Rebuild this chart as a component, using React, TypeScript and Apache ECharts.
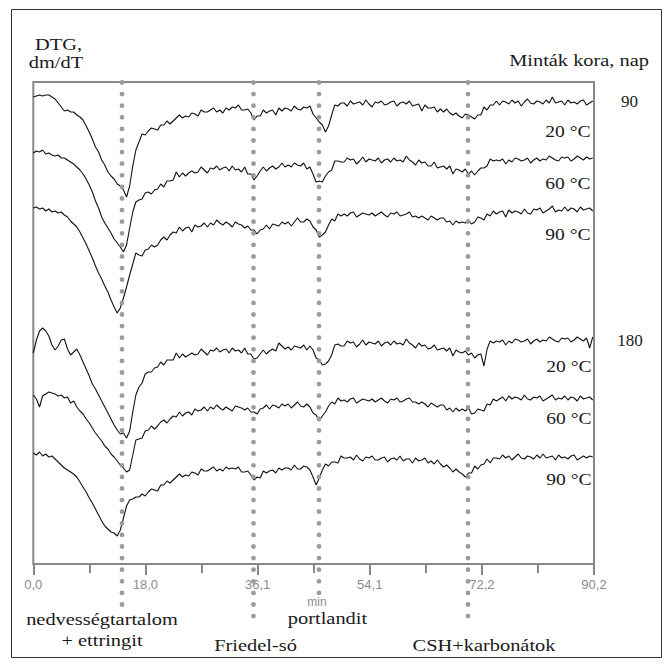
import React, { useEffect, useRef } from "react";
import * as echarts from "echarts";

// sampling times (min)
const timeMin = [
  0, 0.5, 1, 1.5, 2, 2.5, 3, 3.5, 4, 4.5,
  5, 5.5, 6, 6.5, 7, 7.5, 8, 8.5, 9, 9.5,
  10, 10.5, 11, 11.5, 12, 12.5, 13, 13.5, 14, 14.5,
  15, 15.5, 16, 16.5, 17, 17.5, 18, 18.5, 19, 19.5,
  20, 20.5, 21, 21.5, 22, 22.5, 23, 23.5, 24, 24.5,
  25, 25.5, 26, 26.5, 27, 27.5, 28, 28.5, 29, 29.5,
  30, 30.5, 31, 31.5, 32, 32.5, 33, 33.5, 34, 34.5,
  35, 35.5, 36, 36.5, 37, 37.5, 38, 38.5, 39, 39.5,
  40, 40.5, 41, 41.5, 42, 42.5, 43, 43.5, 44, 44.5,
  45, 45.5, 46, 46.5, 47, 47.5, 48, 48.5, 49, 49.5,
  50, 50.5, 51, 51.5, 52, 52.5, 53, 53.5, 54, 54.5,
  55, 55.5, 56, 56.5, 57, 57.5, 58, 58.5, 59, 59.5,
  60, 60.5, 61, 61.5, 62, 62.5, 63, 63.5, 64, 64.5,
  65, 65.5, 66, 66.5, 67, 67.5, 68, 68.5, 69, 69.5,
  70, 70.5, 71, 71.5, 72, 72.5, 73, 73.5, 74, 74.5,
  75, 75.5, 76, 76.5, 77, 77.5, 78, 78.5, 79, 79.5,
  80, 80.5, 81, 81.5, 82, 82.5, 83, 83.5, 84, 84.5,
  85, 85.5, 86, 86.5, 87, 87.5, 88, 88.5, 89, 89.5,
  90,
];

// DTG curves (arbitrary units, vertically offset for display)
const dtg90d20C = [
  -97, -96, -95, -96, -95, -95, -97, -99, -103, -107,
  -111, -110, -112, -112, -115, -117, -120, -126, -132, -139,
  -147, -152, -160, -165, -172, -176, -179, -184, -186, -190,
  -197, -186, -166, -150, -142, -134, -135, -131, -128, -129,
  -130, -125, -125, -121, -124, -121, -118, -115, -118, -116,
  -117, -113, -114, -116, -110, -112, -112, -110, -108, -112,
  -110, -113, -108, -110, -107, -108, -105, -110, -110, -109,
  -113, -120, -116, -116, -110, -113, -111, -110, -115, -108,
  -111, -108, -109, -111, -106, -109, -110, -107, -108, -106,
  -114, -118, -122, -125, -132, -126, -115, -105, -106, -103,
  -103, -106, -101, -104, -103, -102, -105, -100, -104, -107,
  -102, -103, -101, -105, -104, -102, -101, -106, -103, -102,
  -104, -101, -106, -105, -104, -111, -105, -108, -108, -107,
  -112, -109, -112, -109, -113, -115, -113, -116, -118, -114,
  -115, -117, -119, -115, -115, -107, -110, -105, -105, -101,
  -105, -101, -102, -104, -100, -103, -101, -106, -102, -99,
  -103, -104, -101, -102, -104, -100, -103, -97, -103, -102,
  -101, -105, -100, -103, -102, -104, -101, -100, -105, -103,
  -101,
];

const dtg90d60C = [
  -153, -151, -152, -150, -154, -153, -155, -156, -155, -158,
  -158, -160, -162, -164, -167, -170, -174, -179, -185, -192,
  -201, -208, -217, -223, -228, -233, -239, -243, -247, -252,
  -245, -228, -212, -202, -200, -199, -193, -192, -194, -190,
  -189, -184, -187, -181, -181, -180, -172, -177, -173, -176,
  -173, -171, -173, -172, -167, -170, -173, -168, -169, -166,
  -170, -168, -167, -171, -166, -170, -169, -172, -167, -174,
  -174, -180, -176, -171, -167, -171, -168, -166, -169, -167,
  -163, -167, -165, -167, -163, -165, -166, -163, -169, -167,
  -174, -182, -181, -182, -176, -172, -170, -161, -161, -162,
  -162, -158, -160, -159, -164, -161, -157, -162, -159, -160,
  -161, -158, -163, -160, -159, -162, -158, -161, -160, -162,
  -156, -160, -162, -165, -160, -163, -162, -166, -166, -162,
  -168, -167, -166, -169, -166, -174, -169, -170, -172, -169,
  -174, -171, -175, -171, -168, -168, -166, -159, -161, -160,
  -161, -159, -164, -160, -162, -158, -159, -161, -160, -158,
  -163, -160, -158, -161, -159, -160, -156, -158, -160, -161,
  -157, -158, -157, -161, -159, -156, -158, -160, -157, -159,
  -158,
];

const dtg90d90C = [
  -208, -207, -209, -208, -211, -209, -212, -211, -213, -212,
  -215, -217, -221, -224, -227, -232, -238, -244, -251, -258,
  -266, -273, -279, -286, -292, -300, -307, -313, -308, -298,
  -287, -275, -264, -253, -255, -256, -250, -249, -245, -247,
  -245, -240, -237, -240, -235, -232, -233, -227, -231, -228,
  -227, -232, -225, -227, -226, -223, -227, -223, -225, -220,
  -223, -225, -222, -224, -227, -222, -224, -225, -228, -226,
  -230, -230, -234, -230, -229, -225, -229, -224, -225, -226,
  -222, -224, -222, -226, -222, -218, -222, -222, -219, -221,
  -227, -230, -237, -235, -232, -225, -219, -221, -214, -216,
  -214, -216, -213, -212, -217, -215, -213, -214, -215, -213,
  -216, -214, -212, -215, -217, -213, -214, -212, -216, -215,
  -214, -212, -217, -216, -218, -216, -218, -220, -216, -218,
  -220, -218, -218, -222, -221, -225, -221, -223, -222, -223,
  -220, -224, -222, -217, -218, -220, -214, -216, -211, -214,
  -212, -211, -217, -210, -213, -211, -212, -214, -209, -213,
  -214, -209, -210, -208, -213, -211, -209, -206, -212, -210,
  -211, -207, -211, -208, -209, -212, -207, -210, -209, -208,
  -211,
];

const dtg180d20C = [
  -353, -340, -331, -328, -331, -336, -345, -350, -346, -340,
  -339, -349, -355, -352, -349, -355, -362, -369, -376, -384,
  -389, -395, -401, -407, -413, -419, -425, -430, -434, -433,
  -438, -431, -412, -395, -387, -383, -374, -372, -372, -368,
  -367, -362, -365, -360, -360, -360, -353, -358, -354, -357,
  -355, -353, -355, -354, -349, -352, -355, -350, -351, -348,
  -352, -350, -349, -353, -348, -351, -350, -353, -348, -354,
  -354, -359, -358, -354, -350, -354, -351, -349, -351, -343,
  -346, -349, -347, -350, -346, -347, -348, -345, -350, -346,
  -350, -358, -360, -365, -364, -361, -355, -345, -344, -346,
  -346, -341, -343, -342, -347, -344, -340, -345, -342, -343,
  -344, -341, -346, -343, -342, -345, -341, -344, -343, -345,
  -339, -343, -345, -348, -343, -346, -345, -349, -348, -345,
  -350, -349, -348, -351, -348, -356, -350, -352, -353, -351,
  -355, -353, -358, -355, -354, -366, -349, -341, -343, -341,
  -342, -340, -345, -341, -343, -339, -340, -342, -341, -339,
  -344, -341, -339, -342, -340, -341, -337, -339, -341, -342,
  -338, -339, -338, -342, -340, -337, -339, -341, -338, -348,
  -337,
];

const dtg180d60C = [
  -395, -399, -407, -396, -394, -392, -393, -394, -396, -395,
  -398, -397, -403, -401, -407, -411, -414, -419, -423, -428,
  -433, -437, -441, -446, -449, -454, -457, -461, -465, -468,
  -472, -470, -455, -440, -439, -438, -431, -430, -426, -429,
  -426, -422, -420, -423, -419, -416, -417, -412, -416, -413,
  -412, -415, -409, -411, -410, -407, -411, -407, -409, -405,
  -408, -410, -407, -409, -411, -406, -407, -408, -410, -408,
  -412, -412, -414, -409, -408, -405, -409, -405, -406, -408,
  -404, -406, -404, -408, -405, -402, -406, -407, -404, -407,
  -413, -415, -421, -416, -412, -406, -402, -404, -398, -401,
  -400, -402, -399, -398, -403, -401, -399, -400, -401, -399,
  -402, -400, -398, -401, -403, -399, -400, -398, -402, -401,
  -399, -398, -402, -402, -404, -402, -404, -407, -403, -405,
  -407, -405, -405, -410, -408, -412, -408, -411, -409, -411,
  -408, -414, -413, -409, -410, -411, -404, -405, -399, -401,
  -399, -397, -401, -396, -399, -397, -398, -400, -395, -399,
  -400, -397, -398, -396, -401, -399, -397, -395, -400, -398,
  -399, -396, -400, -397, -398, -401, -396, -399, -398, -397,
  -400,
];

const dtg180d90C = [
  -453, -455, -452, -456, -454, -457, -456, -459, -462, -465,
  -468, -470, -472, -474, -477, -482, -487, -492, -498, -503,
  -509, -515, -521, -526, -529, -532, -533, -536, -530, -518,
  -506, -500, -499, -497, -497, -494, -496, -492, -489, -490,
  -491, -485, -485, -481, -483, -480, -477, -474, -477, -475,
  -476, -472, -473, -475, -469, -471, -471, -469, -467, -471,
  -469, -471, -467, -469, -468, -469, -467, -472, -472, -471,
  -475, -480, -477, -478, -471, -473, -471, -470, -473, -468,
  -470, -468, -468, -470, -465, -469, -469, -466, -467, -470,
  -477, -485, -478, -470, -464, -466, -462, -462, -463, -456,
  -458, -458, -457, -460, -455, -459, -461, -457, -458, -456,
  -460, -460, -458, -457, -462, -459, -458, -460, -456, -461,
  -459, -459, -463, -458, -461, -460, -458, -463, -461, -464,
  -460, -464, -467, -465, -468, -472, -469, -472, -474, -477,
  -473, -473, -466, -469, -465, -464, -459, -463, -458, -458,
  -459, -455, -458, -456, -460, -457, -454, -458, -459, -456,
  -457, -459, -455, -458, -454, -458, -457, -456, -460, -455,
  -458, -457, -459, -456, -455, -460, -458, -456, -458, -456,
  -457,
];

const curveNames = ["90 nap 20 °C", "90 nap 60 °C", "90 nap 90 °C", "180 nap 20 °C", "180 nap 60 °C", "180 nap 90 °C"];
const curves = [dtg90d20C, dtg90d60C, dtg90d90C, dtg180d20C, dtg180d60C, dtg180d90C];

// characteristic peak times (min)
const peakNames = ["nedvességtartalom + ettringit", "Friedel-só", "portlandit", "CSH+karbonátok"];
const peakTimes = [14.27, 35.42, 45.96, 69.93];
const peakLineEnds = [-605.5, -617, -594, -617];

const xMin = 0;
const xMax = 90.2;
const xInterval = 18.04;
const yMin = -564;
const yMax = -82;

const SERIF = "'Liberation Serif', 'Times New Roman', Times, serif";
const INK = "#1a1a1a";

function txt(text: string, x: number, y: number, align: string, scaleX = 1.2, size = 17, fill = INK, family = SERIF) {
  return {
    type: "text",
    x,
    y,
    scaleX,
    silent: true,
    style: {
      text,
      fill,
      font: `${size}px ${family}`,
      align,
      verticalAlign: "middle",
    },
  };
}

export default function App() {
  const ref = useRef<HTMLDivElement>(null);

  useEffect(() => {
    if (!ref.current) return;
    const chart = echarts.init(ref.current, null, { renderer: "svg" });

    const curveSeries = curves.map((c, k) => ({
      type: "line",
      name: curveNames[k],
      data: timeMin.map((t, i) => [t, c[i]]),
      symbol: "none",
      showSymbol: false,
      silent: true,
      emphasis: { disabled: true },
      lineStyle: { color: "#111", width: 1.1 },
      z: 2,
    }));

    const peakSeries = peakTimes.map((t, k) => ({
      type: "line",
      name: peakNames[k],
      data: [
        [t, yMax - 0.5],
        [t, peakLineEnds[k]],
      ],
      clip: false,
      symbol: "none",
      showSymbol: false,
      silent: true,
      emphasis: { disabled: true },
      lineStyle: { color: "#9b9b9b", width: 4.8, type: [0, 11.6], cap: "round" },
      z: 3,
    }));

    const option: any = {
      animation: false,
      grid: {
        left: 33.3,
        top: 82,
        right: 72,
        bottom: 103,
        show: true,
        borderColor: "#888",
        borderWidth: 2,
        backgroundColor: "transparent",
        containLabel: false,
        outerBoundsMode: "none",
      },
      xAxis: {
        type: "value",
        min: xMin,
        max: xMax,
        interval: xInterval,
        axisLine: { show: true, onZero: false, lineStyle: { color: "#888", width: 2 } },
        axisTick: { show: true, length: 11, lineStyle: { color: "#888", width: 2 } },
        minorTick: { show: true, splitNumber: 2, length: 9, lineStyle: { color: "#888", width: 2 } },
        splitLine: { show: false },
        minorSplitLine: { show: false },
        axisLabel: {
          margin: 14,
          color: "#8c8c8c",
          fontSize: 13,
          fontFamily: "'Liberation Sans Narrow', 'Liberation Sans', Arial, sans-serif",
          formatter: (v: number) => v.toFixed(1).replace(".", ","),
        },
      },
      yAxis: {
        type: "value",
        min: yMin,
        max: yMax,
        show: false,
        splitLine: { show: false },
      },
      series: [...curveSeries, ...peakSeries],
      graphic: [
        {
          type: "rect",
          silent: true,
          shape: { x: 11.5, y: 9.5, width: 650, height: 648 },
          style: { fill: "none", stroke: "#333", lineWidth: 1 },
        },
        txt("DTG,", 58.5, 44, "center"),
        txt("dm/dT", 56, 62, "center"),
        txt("Minták kora, nap", 649, 60, "right"),
        txt("90", 629.5, 101, "center", 1.0),
        txt("180", 630, 340, "center", 1.0),
        txt("20 °C", 590.5, 131.5, "right", 1.15),
        txt("60 °C", 590.5, 183, "right", 1.15),
        txt("90 °C", 590.5, 234.7, "right", 1.15),
        txt("20 °C", 591.5, 366.7, "right", 1.15),
        txt("60 °C", 591.5, 418, "right", 1.15),
        txt("90 °C", 591.5, 479, "right", 1.15),
        txt("nedvességtartalom", 102, 619, "center"),
        txt("+ ettringit", 102, 640.5, "center"),
        txt("Friedel-só", 255.5, 645, "center"),
        txt("portlandit", 327.5, 618, "center"),
        txt("CSH+karbonátok", 484, 645, "center"),
        txt("min", 317, 602, "center", 1.0, 12, "#8c8c8c", "'Liberation Sans', Arial, sans-serif"),
      ],
    };

    chart.setOption(option);
    return () => {
      chart.dispose();
    };
  }, []);

  return (
    <div
      ref={ref}
      style={{ position: "absolute", left: 0, top: 0, width: 666, height: 667, background: "#fff" }}
    />
  );
}
